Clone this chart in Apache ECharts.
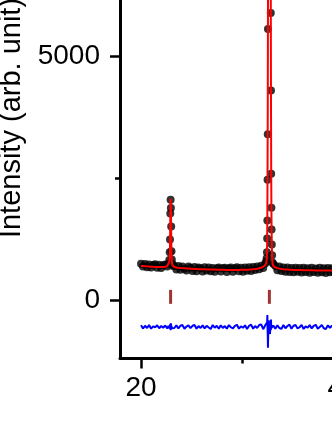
<!DOCTYPE html>
<html>
<head>
<meta charset="utf-8">
<script src="https://cdn.jsdelivr.net/npm/echarts@6/dist/echarts.min.js"></script>
<style>
  html, body { margin: 0; padding: 0; background: #fff; overflow: hidden; width: 332px; height: 430px; }
  #wrap { position: relative; width: 332px; height: 430px; overflow: hidden; }
  /* the original figure is cropped: the chart is bigger than the window */
  #chart { position: absolute; left: 0; top: -150px; width: 420px; height: 570px; }
</style>
</head>
<body>
<div id="wrap"><div id="chart"></div></div>
<script>
// 2-theta grid (deg)
const twoTheta = [
  20.0, 20.2, 20.4, 20.6, 20.8, 21.0, 21.2, 21.4, 21.6, 21.8, 22.0, 22.2, 22.4, 22.6,
  22.72, 22.80, 22.84, 22.87, 22.90, 22.93, 22.96, 22.99, 23.02, 23.05, 23.10, 23.18,
  23.3, 23.5, 23.7, 23.9, 24.1, 24.3, 24.5, 24.7, 24.9, 25.1, 25.3, 25.5, 25.7, 25.9, 26.1, 26.3,
  26.5, 26.7, 26.9, 27.1, 27.3, 27.5, 27.7, 27.9, 28.1, 28.3, 28.5, 28.7, 28.9, 29.1, 29.3, 29.5,
  29.7, 29.9, 30.1, 30.3, 30.5, 30.7, 30.9, 31.1, 31.3, 31.5, 31.7, 31.9, 32.1, 32.3,
  32.40, 32.44, 32.47, 32.49, 32.51, 32.53, 32.55, 32.57, 32.60, 32.65, 32.71, 32.77, 32.82,
  32.85, 32.87, 32.89, 32.91, 32.93, 32.95, 32.98, 33.02,
  33.1, 33.3, 33.5, 33.7, 33.9, 34.1, 34.3, 34.5, 34.7, 34.9, 35.1, 35.3, 35.5, 35.7, 35.9, 36.1,
  36.3, 36.5, 36.7, 36.9, 37.1, 37.3, 37.5, 37.7, 37.9, 38.1, 38.3, 38.5, 38.7, 38.9, 39.1, 39.3,
  39.5, 39.7, 39.9, 40.1
];

// observed intensity
const yObs = [
  745, 690, 738, 672, 730, 668, 720, 735, 662, 725, 660, 712, 728, 690,
  740, 820, 980, 1245, 1775, 2061, 1890, 1510, 1000, 830, 745, 700,
  700, 625, 700, 620, 690, 640, 605, 688, 665, 598, 678, 592, 670, 655, 585, 672,
  605, 668, 590, 660, 580, 655, 668, 585, 650, 665, 578, 650, 668, 580, 655, 672,
  590, 662, 580, 670, 600, 675, 595, 680, 615, 690, 630, 705, 660, 750,
  790, 860, 980, 1265, 1633, 2469, 3408, 5571, 9300, 13300, 14800, 13000, 9900,
  5898, 4306, 2592, 1898, 1449, 1143, 920, 770,
  740, 700, 610, 690, 595, 668, 580, 670, 575, 660, 568, 665, 580, 660, 565, 662,
  575, 655, 560, 662, 578, 648, 562, 665, 570, 650, 555, 660, 572, 652, 565, 662,
  575, 650, 580, 660
];

// calculated profile
const yCalc = [
  700, 697, 694, 691, 688, 685, 682, 680, 678, 677, 677, 679, 684, 695,
  725, 790, 880, 1100, 1700, 2080, 1950, 1350, 950, 800, 720, 690,
  678, 670, 664, 659, 655, 651, 648, 645, 642, 640, 638, 636, 634, 632, 631, 630,
  629, 628, 627, 626, 625, 624, 623, 622, 621, 620, 619, 619, 618, 618, 618, 618,
  619, 620, 621, 622, 624, 626, 629, 633, 638, 644, 652, 664, 684, 718,
  760, 830, 950, 1200, 1750, 2700, 3900, 5800, 9500, 13500, 14500, 13300, 9600,
  6200, 4100, 2700, 1900, 1450, 1150, 900, 760,
  700, 672, 655, 645, 638, 633, 629, 626, 623, 621, 619, 617, 616, 615, 614, 613,
  612, 611, 610, 610, 609, 608, 608, 607, 607, 606, 606, 605, 605, 605, 605, 604,
  604, 604, 604, 604
];

// difference curve (offset below zero)
const yDiff = [
  -520, -585, -530, -575, -515, -590, -540, -560, -520, -580, -535, -570, -525, -585,
  -530, -580, -520, -590, -490, -620, -480, -600, -530, -580, -540, -560,
  -575, -520, -585, -530, -515, -590, -545, -520, -580, -530, -515, -590, -535, -575, -520, -585,
  -530, -565, -595, -515, -570, -530, -590, -520, -575, -535, -590, -515, -560, -585, -530, -510,
  -590, -540, -570, -520, -595, -530, -505, -590, -535, -575, -515, -500, -600, -520,
  -530, -560, -500, -460, -310, -600, -720, -980, -650, -420, -520, -700, -480,
  -620, -400, -590, -510, -570, -540, -555, -548,
  -525, -590, -520, -575, -595, -515, -580, -535, -505, -590, -530, -515, -585, -560, -510, -595,
  -540, -570, -515, -585, -530, -510, -590, -555, -515, -580, -595, -520, -570, -530, -590, -515,
  -580, -545, -510, -590
];

// Bragg reflection positions
const braggPos = [22.93, 32.71];
const braggLevel = 65;

const xMajorTicks = [20, 40];
const xMinorTicks = [30];
const yMajorTicks = [0, 5000];
const yMinorTicks = [2500, 7500];

const chart = echarts.init(document.getElementById('chart'), null, { renderer: 'canvas' });

const font = 'Liberation Sans, Arial, sans-serif';
const tickStyle = { color: '#000', width: 2.5 };
const yMax = 8680;

const option = {
  animation: false,
  backgroundColor: '#fff',
  grid: { left: 120, right: 26.5, top: 27.6, bottom: 61.6, containLabel: false, outerBoundsMode: 'none' },
  xAxis: [
    {
      type: 'value', min: 17.92, max: 45,
      splitLine: { show: false },
      axisLine: { onZero: false, lineStyle: { color: '#000', width: 3 } },
      axisTick: { customValues: xMajorTicks, length: 10, lineStyle: tickStyle },
      axisLabel: { customValues: xMajorTicks, margin: 16, fontSize: 28, color: '#000', fontFamily: font,
        formatter: v => String(v) }
    },
    {
      type: 'value', min: 17.92, max: 45, position: 'bottom',
      splitLine: { show: false },
      axisLine: { show: false, onZero: false },
      axisTick: { customValues: xMinorTicks, length: 5, lineStyle: tickStyle },
      axisLabel: { show: false }
    }
  ],
  yAxis: [
    {
      type: 'value', min: -1200, max: yMax,
      splitLine: { show: false },
      axisLine: { onZero: false, lineStyle: { color: '#000', width: 3 } },
      axisTick: { customValues: yMajorTicks, length: 10, lineStyle: tickStyle },
      axisLabel: { customValues: yMajorTicks, margin: 20, fontSize: 28, color: '#000', fontFamily: font,
        formatter: v => String(v) },
      name: 'Intensity (arb. unit)',
      nameLocation: 'middle',
      nameGap: 78,
      nameTextStyle: { fontSize: 29, color: '#000', fontFamily: font }
    },
    {
      type: 'value', min: -1200, max: yMax, position: 'left',
      splitLine: { show: false },
      axisLine: { show: false, onZero: false },
      axisTick: { customValues: yMinorTicks, length: 5, lineStyle: tickStyle },
      axisLabel: { show: false }
    }
  ],
  series: [
    {
      name: 'obs', type: 'scatter', symbol: 'circle', symbolSize: 8,
      itemStyle: { color: '#000' },
      data: twoTheta.map((x, i) => [x, yObs[i]]),
      z: 2
    },
    {
      name: 'calc', type: 'line', showSymbol: false,
      lineStyle: { color: '#ff0000', width: 2 },
      data: twoTheta.map((x, i) => [x, yCalc[i]]),
      z: 3
    },
    {
      name: 'diff', type: 'line', showSymbol: false,
      lineStyle: { color: '#0000ff', width: 2 },
      data: twoTheta.map((x, i) => [x, yDiff[i]]),
      z: 3
    },
    {
      name: 'bragg', type: 'scatter', symbol: 'rect', symbolSize: [3, 14],
      itemStyle: { color: '#8b0000' },
      data: braggPos.map(x => [x, braggLevel]),
      z: 3
    }
  ]
};

chart.setOption(option);
</script>
</body>
</html>
